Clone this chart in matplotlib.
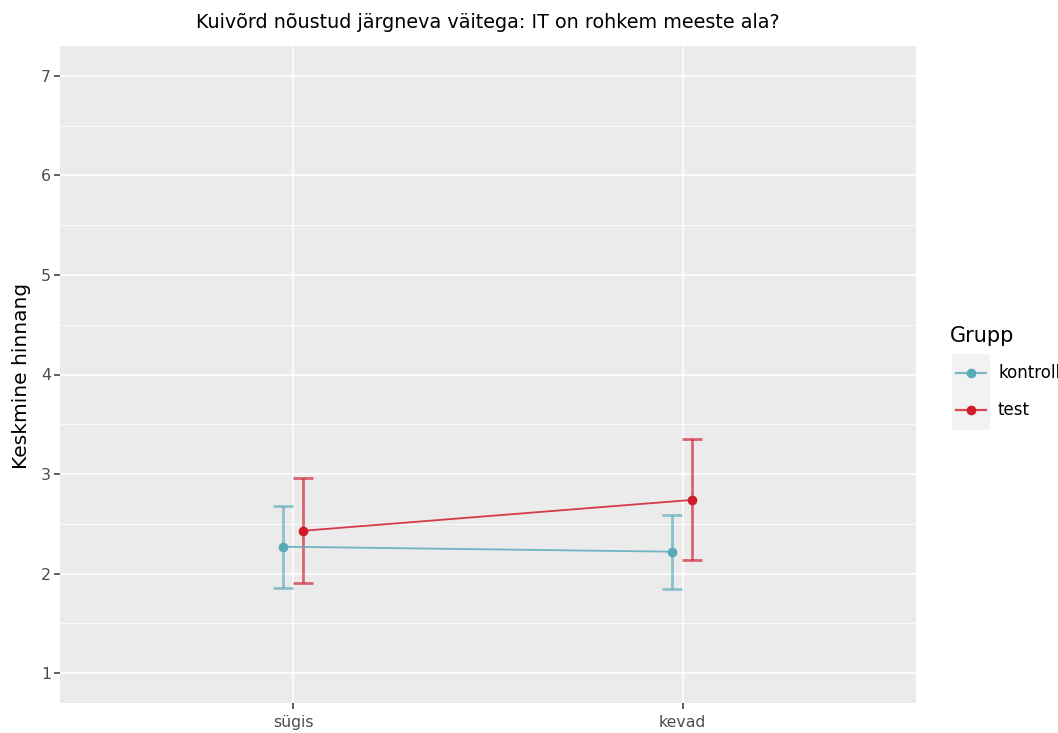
import matplotlib
matplotlib.use("Agg")
import matplotlib.pyplot as plt
from matplotlib.lines import Line2D
from matplotlib.patches import Rectangle

plt.rcParams["font.family"] = ["DejaVu Sans"]

title = "Kuivõrd nõustud järgneva väitega: IT on rohkem meeste ala?"
ylabel = "Keskmine hinnang"
legend_title = "Grupp"
periods = ["sügis", "kevad"]
groups = ["kontroll", "test"]
means = {"kontroll": [2.27, 2.22], "test": [2.43, 2.74]}
lower = {"kontroll": [1.86, 1.85], "test": [1.91, 2.14]}
upper = {"kontroll": [2.68, 2.59], "test": [2.96, 3.35]}
colors = {"kontroll": "#5aabba", "test": "#d01b2b"}
dodge = {"kontroll": -0.027, "test": 0.024}
yticks = [1, 2, 3, 4, 5, 6, 7]

W, H = 1058, 733
fig = plt.figure(figsize=(W / 100, H / 100), dpi=100)
ax = fig.add_axes([60 / W, 30 / H, (916 - 60) / W, (703 - 46) / H])
ax.set_facecolor("#ebebeb")
for s in ax.spines.values():
    s.set_visible(False)

ax.set_xlim(0.4, 2.6)
ax.set_ylim(0.7, 7.3)
ax.set_yticks(yticks)
ax.set_yticks([1.5, 2.5, 3.5, 4.5, 5.5, 6.5], minor=True)
ax.set_xticks([1, 2])
ax.set_xticklabels(periods)
ax.grid(which="major", color="white", linewidth=1.1)
ax.grid(which="minor", axis="y", color="white", linewidth=0.55)
ax.set_axisbelow(True)
ax.tick_params(axis="both", which="major", length=4, width=1.1, color="#333333",
               labelcolor="#4d4d4d", labelsize=11.3, pad=2.5)
ax.tick_params(axis="x", which="major", pad=4.5)
ax.tick_params(axis="y", which="minor", length=0)

for g in groups:
    xs = [1 + dodge[g], 2 + dodge[g]]
    m = means[g]
    lo = [m[i] - lower[g][i] for i in range(2)]
    hi = [upper[g][i] - m[i] for i in range(2)]
    ax.errorbar(xs, m, yerr=[lo, hi], fmt="none", ecolor=colors[g], alpha=0.65,
                elinewidth=2.0, capsize=7.5, capthick=2.0, zorder=3)
    ax.plot(xs, m, color=colors[g], linewidth=1.3, alpha=0.85, zorder=4)
    ax.plot(xs, m, "o", color=colors[g], markersize=7, markeredgewidth=0, zorder=5)


def fy(py):
    return 1 - py / H


fig.text(488 / W, fy(22), title, fontsize=13.8, color="black", ha="center", va="center")
fig.text(22 / W, fy(376), ylabel, fontsize=14.5, color="black", ha="center", va="center",
         rotation=90)

# legend drawn in figure coordinates
fig.text(950 / W, fy(336), legend_title, fontsize=15, color="black", va="center", ha="left")
fig.patches.append(Rectangle((952 / W, fy(430)), 38 / W, 76 / H,
                             transform=fig.transFigure, facecolor="#f2f2f2",
                             edgecolor="none", zorder=0))
key_y = {"kontroll": 373, "test": 410}
for g in groups:
    y = fy(key_y[g])
    fig.add_artist(Line2D([956 / W, 986 / W], [y, y], color=colors[g], linewidth=1.6,
                          alpha=0.8, transform=fig.transFigure))
    fig.add_artist(Line2D([971 / W], [y], color=colors[g], marker="o", markersize=7,
                          markeredgewidth=0, linestyle="none", transform=fig.transFigure))
    fig.text(998 / W, y, g, fontsize=12, color="black", va="center", ha="left")

fig.savefig("out.png", dpi=100)
